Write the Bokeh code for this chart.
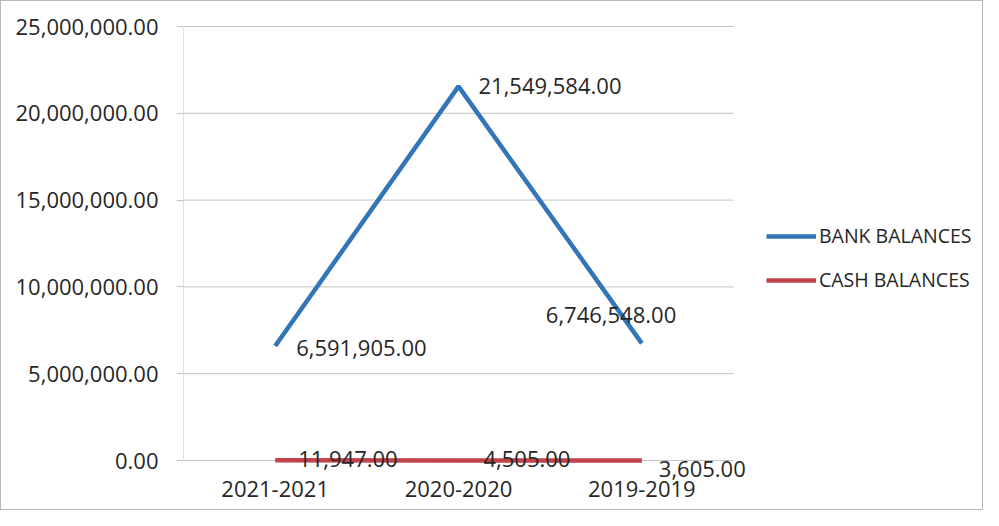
from bokeh.plotting import figure
from bokeh.models import ColumnDataSource, Range1d, NumeralTickFormatter, FixedTicker, Legend, LegendItem
from bokeh.core.properties import value
from bokeh.embed import file_html
from bokeh.resources import INLINE

categories = ["2021-2021", "2020-2020", "2019-2019"]
bank_balances = [6591905.00, 21549584.00, 6746548.00]
cash_balances = [11947.00, 4505.00, 3605.00]
y_ticks = [0, 5000000, 10000000, 15000000, 20000000, 25000000]

bank_labels = ["{:,.2f}".format(v) for v in bank_balances]
cash_labels = ["{:,.2f}".format(v) for v in cash_balances]
xpos = [i + 0.5 for i in range(len(categories))]

# label offsets (pixels) for each data label, as placed in the reference
bank_dx = [21, 20, -96]
bank_dy = [2, 0, -28]
cash_dx = [23, 25, 17]
cash_dy = [-1, -1, 9]

FONT = "Open Sans"
TXT = "#262626"
GRID = "#c4c4c4"
BLUE = "#3276B9"
RED = "#C0424A"

# layout (figure pixels)
W, H = 983, 510
LEFT = 182          # frame left edge (category axis starts here)
PLOT_W = 550        # width of category area
TOP_GRID = 25       # pixel of the top gridline
ZERO = 459          # pixel of the zero line
FT, FB = 2, 2       # frame top / bottom borders
frame_w = W - LEFT - 2
ymax = y_ticks[-1]
per_px = ymax / (ZERO - TOP_GRID)
y_end = ymax + (TOP_GRID - FT) * per_px
y_start = -((H - FB) - ZERO) * per_px
x_end = len(categories) * frame_w / PLOT_W

bank_src = ColumnDataSource(dict(x=xpos, y=bank_balances, t=bank_labels, dx=bank_dx, dy=bank_dy))
cash_src = ColumnDataSource(dict(x=xpos, y=cash_balances, t=cash_labels, dx=cash_dx, dy=cash_dy))

p = figure(width=W, height=H, x_range=Range1d(0, x_end), y_range=Range1d(y_start, y_end),
           output_backend="svg", toolbar_location=None,
           min_border_left=LEFT, min_border_top=FT, min_border_right=2, min_border_bottom=FB)
p.styles = {"border": "1px solid #b8b8b8"}
p.outline_line_color = None
p.background_fill_color = "white"
p.border_fill_color = "white"
p.xgrid.grid_line_color = None
p.ygrid.grid_line_color = None

# gridlines and the value axis line, spanning only the category area
n = len(y_ticks)
p.segment(x0=[0] * n, y0=y_ticks, x1=[len(categories)] * n, y1=y_ticks, line_color=GRID, line_width=1)
p.segment(x0=[0], y0=[0], x1=[0], y1=[ymax], line_color=GRID, line_width=1)

bank_r = p.line("x", "y", source=bank_src, line_color=BLUE, line_width=4.5)
cash_r = p.line("x", "y", source=cash_src, line_color=RED, line_width=4.5)

for src in (bank_src, cash_src):
    p.text("x", "y", text="t", source=src, x_offset="dx", y_offset="dy",
           text_font=value(FONT), text_font_size="22px", text_color=TXT,
           text_baseline="middle", text_align="left")

# y axis
p.yaxis.ticker = FixedTicker(ticks=y_ticks)
p.yaxis.formatter = NumeralTickFormatter(format="0,0.00")
p.yaxis.major_label_text_font = FONT
p.yaxis.major_label_text_font_size = "22px"
p.yaxis.major_label_text_color = TXT
p.yaxis.axis_line_color = None
p.yaxis.major_tick_line_color = GRID
p.yaxis.major_tick_out = 7
p.yaxis.major_tick_in = 0
p.yaxis.minor_tick_line_color = None
p.yaxis.major_label_standoff = 18

# x (category) axis at the zero line
p.xaxis.fixed_location = 0
p.xaxis.ticker = FixedTicker(ticks=xpos)
p.xaxis.major_label_overrides = {x: c for x, c in zip(xpos, categories)}
p.xaxis.major_label_text_font = FONT
p.xaxis.major_label_text_font_size = "22px"
p.xaxis.major_label_text_color = TXT
p.xaxis.axis_line_color = None
p.xaxis.major_tick_line_color = None
p.xaxis.minor_tick_line_color = None
p.xaxis.major_label_standoff = 14

legend = Legend(items=[LegendItem(label="BANK BALANCES", renderers=[bank_r]),
                       LegendItem(label="CASH BALANCES", renderers=[cash_r])],
                location=(583, 216), orientation="vertical")
legend.glyph_width = 50
legend.glyph_height = 22
legend.label_height = 22
legend.spacing = 17
legend.padding = 0
legend.margin = 0
legend.label_standoff = 3
legend.border_line_color = None
legend.background_fill_alpha = 0
legend.label_text_font = FONT
legend.label_text_font_size = "19.5px"
legend.label_text_color = TXT
legend.label_text_baseline = "middle"
p.add_layout(legend, "center")

open("out.html", "w").write(file_html(p, INLINE))
